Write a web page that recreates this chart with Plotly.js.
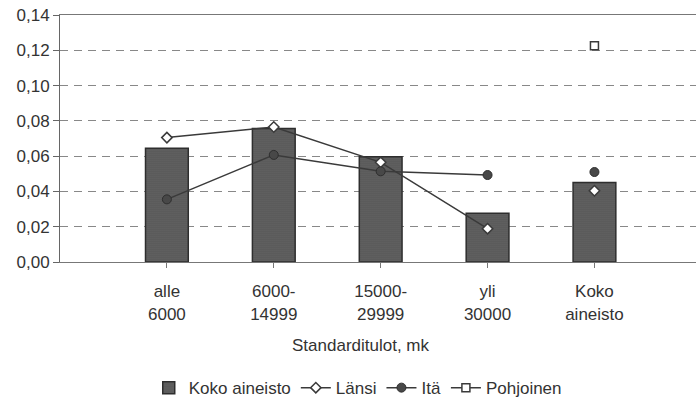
<!DOCTYPE html>
<html>
<head>
<meta charset="utf-8">
<script src="https://cdn.plot.ly/plotly-3.0.1.min.js"></script>
<style>html,body{margin:0;padding:0;background:#fff;}#chart{width:696px;height:403px;}</style>
</head>
<body>
<div id="chart"></div>
<script>
const categories = ["alle<br>6000", "6000-<br>14999", "15000-<br>29999", "yli<br>30000", "Koko<br>aineisto"];
const kokoAineisto = [0.0645, 0.0756, 0.0597, 0.0276, 0.0450];
const lansi = [0.0705, 0.0765, 0.0565, 0.0189, 0.0404];
const ita = [0.0355, 0.0607, 0.0514, 0.0493, 0.0510];
const pohjoinen = [null, null, null, null, 0.1226];
const yTicks = [0, 0.02, 0.04, 0.06, 0.08, 0.10, 0.12, 0.14];
const xTitle = "Standarditulot, mk";

const font = {family: "Liberation Sans, Arial, sans-serif", size: 17, color: "#333"};
const lineCol = "#3a3a3a";

const traces = [
  {type: "bar", name: "Koko aineisto", x: categories, y: kokoAineisto, width: 0.4,
   marker: {color: "#5c5c5c", line: {color: "#2e2e2e", width: 1.5},
            pattern: {shape: ".", fgcolor: "#7a7a7a", bgcolor: "#545454", size: 2, solidity: 0.3}}},
  {type: "scatter", mode: "lines+markers", name: "Länsi", legendgroup: "l",
   x: categories.slice(0, 4), y: lansi.slice(0, 4),
   line: {color: lineCol, width: 1.5},
   marker: {symbol: "diamond", size: 8, color: "#fff", line: {color: lineCol, width: 1.5}}},
  {type: "scatter", mode: "markers", name: "Länsi", legendgroup: "l", showlegend: false,
   x: categories.slice(4), y: lansi.slice(4),
   marker: {symbol: "diamond", size: 8, color: "#fff", line: {color: lineCol, width: 1.5}}},
  {type: "scatter", mode: "lines+markers", name: "Itä", legendgroup: "i",
   x: categories.slice(0, 4), y: ita.slice(0, 4),
   line: {color: lineCol, width: 1.5},
   marker: {symbol: "circle", size: 9, color: "#484848", line: {color: "#2e2e2e", width: 1}}},
  {type: "scatter", mode: "markers", name: "Itä", legendgroup: "i", showlegend: false,
   x: categories.slice(4), y: ita.slice(4),
   marker: {symbol: "circle", size: 9, color: "#484848", line: {color: "#2e2e2e", width: 1}}},
  {type: "scatter", mode: "lines+markers", name: "Pohjoinen",
   x: categories, y: pohjoinen,
   line: {color: lineCol, width: 1.5},
   marker: {symbol: "square", size: 8, color: "#fff", line: {color: lineCol, width: 1.5}}}
];

const layout = {
  width: 696, height: 403,
  margin: {l: 60, r: 0, t: 15, b: 141},
  paper_bgcolor: "#fff", plot_bgcolor: "#fff",
  font: font,
  separators: ",.",
  showlegend: true,
  legend: {orientation: "h", xref: "container", yref: "container", x: 0.514, xanchor: "center",
           y: 0.037, yanchor: "middle", font: {size: 17, color: "#333"}, itemwidth: 30, tracegroupgap: 0},
  xaxis: {type: "category", range: [-1, 4.95], showgrid: false, showline: true, linecolor: "#777", linewidth: 1,
          mirror: true, ticks: "outside", ticklen: 5, tickcolor: "#777", ticklabelstandoff: 9,
          tickfont: {size: 17, color: "#333"}},
  yaxis: {range: [0, 0.14], tickvals: yTicks, tickformat: ".2f", showgrid: true, gridcolor: "#888",
          griddash: "8px,6px", gridwidth: 1, showline: true, linecolor: "#666", linewidth: 1,
          ticks: "outside", ticklen: 6, tickcolor: "#666", zeroline: false, tickfont: {size: 17, color: "#333"}},
  annotations: [{text: xTitle, xref: "paper", yref: "paper", x: 0.473, y: -0.34, showarrow: false,
                 xanchor: "center", yanchor: "middle", font: {size: 17, color: "#333"}}],
  bargap: 0.6
};

Plotly.newPlot("chart", traces, layout, {displayModeBar: false, staticPlot: true});
</script>
</body>
</html>
